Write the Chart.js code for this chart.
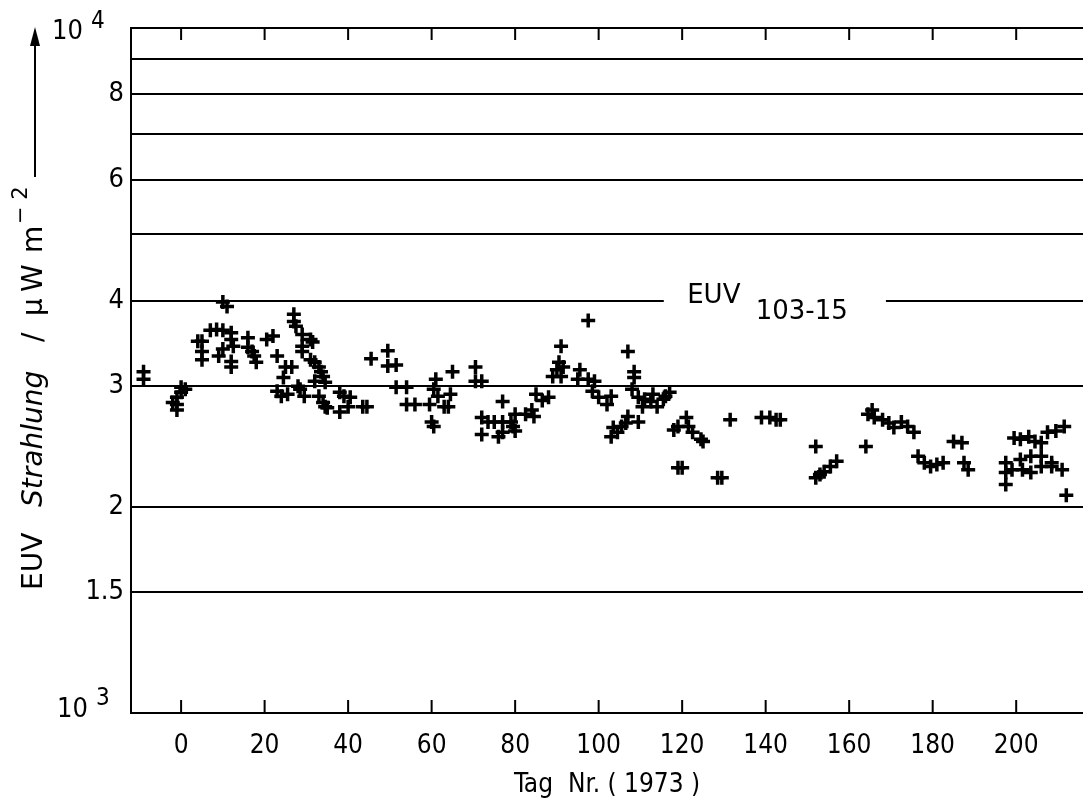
<!DOCTYPE html>
<html>
<head>
<meta charset="utf-8">
<script src="https://cdn.jsdelivr.net/npm/chart.js@4.4.1/dist/chart.umd.min.js"></script>
<style>
  html, body { margin: 0; padding: 0; background: #fff; }
  canvas { display: block; }
</style>
</head>
<body>
<canvas id="euvChart" width="1083" height="803"></canvas>
<script>
// Tag Nr. (1973) and EUV 103-15 values in µW m^-2
const days = [
  -9, -9,
  -2, -1, -1, -1, 0, 1, 0,
  4, 5, 5, 5, 7, 8.5, 10, 10, 11, 12, 12, 12.5, 9, 10, 12, 12,
  16, 16, 17, 17.5, 18, 20.5, 22, 23, 25, 26.5, 24.5, 23, 24, 25.5,
  27, 27, 27.5, 29, 31, 31.5, 29, 29, 28, 28.5, 29.5, 31, 32, 33, 33.5, 34, 32, 34.5, 33, 34, 34.5, 35,
  38, 39, 40.5, 40, 38, 43.5, 44.5, 45.5, 49.5, 49.5, 51.5, 51.5, 54, 54, 56,
  61, 60.5, 61.5, 59.5, 64.5, 64, 63, 60, 60.5, 65,
  70.5, 70.5, 72, 77, 72, 73.5, 75, 77, 79, 72, 76, 77, 79.5, 80, 80,
  82.5, 84, 84.5, 85, 86.5, 88, 89, 90, 90.5, 91, 91, 91.5,
  97.5, 95.5, 95, 97.5, 99, 98.5, 100, 103, 102,
  103, 103.5, 104.5, 105.5, 106.5, 107, 109.5, 107, 108.5, 108.5, 109.5, 110.5, 111, 112.5, 114, 115.5, 117, 108, 113, 116,
  118, 119, 121, 121.5, 122.5, 124.5, 119, 120, 125, 128.5, 129.5, 131.5,
  139, 141, 142.5, 143.5,
  152, 152, 153, 154, 155.5, 157,
  164, 164.5, 165.5, 166, 168, 169.5, 170.7, 172.5, 174, 175.5,
  176.5, 178, 179.5, 181, 182.5, 185, 187, 187.5, 188.5,
  197.5, 197.5, 197.5, 199.5, 201, 203, 204.5, 206, 207.5, 209.5, 211.5,
  199, 201.5, 203.5, 206, 208.5, 211, 201, 203.5, 206, 208.5, 212
];
const euv = [
  3150, 3070,
  2840, 2770, 2890, 2820, 2990, 2970, 2940,
  3490, 3490, 3370, 3280, 3620, 3630, 3620, 3980, 3920, 3590, 3510, 3430, 3320, 3400, 3260, 3200,
  3530, 3420, 3370, 3320, 3250, 3510, 3550, 3320, 3200, 3200, 3090, 2950, 2900, 2920,
  3820, 3730, 3670, 3570, 3510, 3480, 3430, 3370, 3000, 2970, 2900, 3280, 3250, 3200, 3150, 3100, 3050, 3040, 2900, 2840, 2800, 2790,
  2940, 2900, 2890, 2800, 2750, 2800, 2800, 3290, 3380, 3210, 3220, 2990, 2990, 2820, 2820,
  3070, 2970, 2900, 2820, 2920, 2800, 2800, 2660, 2620, 3150,
  3200, 3050, 3050, 2850, 2700, 2660, 2660, 2660, 2660, 2550, 2530, 2570, 2620, 2730, 2580,
  2730, 2770, 2710, 2920, 2860, 2890, 3100, 3170, 3250, 3430, 3100, 3200,
  3740, 3170, 3070, 3070, 3050, 2950, 2890, 2900, 2820,
  2530, 2610, 2570, 2620, 2650, 2710, 2660, 3370, 3150, 3090, 2890, 2800, 2870, 2850, 2800, 2870, 2940, 2970, 2920, 2900,
  2590, 2620, 2700, 2620, 2570, 2510, 2280, 2280, 2490, 2205, 2205, 2680,
  2700, 2700, 2680, 2680,
  2450, 2205, 2230, 2250, 2290, 2330,
  2450, 2730, 2770, 2700, 2680, 2650, 2610, 2660, 2620, 2570,
  2370, 2320, 2290, 2305, 2320, 2490, 2480, 2320, 2265,
  2320, 2245, 2155, 2520, 2510, 2530, 2490, 2480, 2570, 2580, 2620,
  2265, 2265, 2245, 2290, 2290, 2265, 2345, 2370, 2370, 2320, 2080
];

const xTicks = [0, 20, 40, 60, 80, 100, 120, 140, 160, 180, 200];
const yTicks = [1000, 1500, 2000, 3000, 4000, 5000, 6000, 7000, 8000, 9000, 10000];
const yLabels = { 1500: '1.5', 2000: '2', 3000: '3', 4000: '4', 6000: '6', 8000: '8' };

const FONT = '"DejaVu Sans Condensed", "DejaVu Sans", sans-serif';
const FONT_WIDE = '"DejaVu Sans", sans-serif';
Chart.defaults.font.family = FONT;
Chart.defaults.color = '#000';

const points = days.map((d, i) => ({ x: d, y: euv[i] }));

// tick marks, exponents, axis title with arrow, curve label
const decorations = {
  id: 'decorations',
  beforeDatasetsDraw(chart) {
    const { ctx, scales: { x, y } } = chart;
    const yy = y.getPixelForValue(4000);
    ctx.save();
    ctx.fillStyle = '#fff';
    const x0 = x.getPixelForValue(115.6);
    ctx.fillRect(x0, yy - 4, x.getPixelForValue(168.8) - x0, 8);
    ctx.fillStyle = '#000';
    ctx.textBaseline = 'middle';
    ctx.textAlign = 'left';
    ctx.font = '26px ' + FONT_WIDE;
    ctx.fillText('EUV', x.getPixelForValue(121.2), yy - 4);
    ctx.fillText('103-15', x.getPixelForValue(137.6), yy + 12);
    ctx.restore();
  },
  afterDraw(chart) {
    const { ctx, chartArea: { top, bottom }, scales: { x } } = chart;
    ctx.save();
    ctx.strokeStyle = '#000';
    ctx.lineWidth = 2;
    xTicks.forEach(v => {
      const px = x.getPixelForValue(v);
      ctx.beginPath();
      ctx.moveTo(px, bottom);
      ctx.lineTo(px, bottom - 13);
      ctx.moveTo(px, top);
      ctx.lineTo(px, top + 12);
      ctx.stroke();
    });

    // 10^4 and 10^3
    ctx.fillStyle = '#000';
    ctx.textBaseline = 'middle';
    ctx.textAlign = 'right';
    ctx.font = '27px ' + FONT;
    ctx.fillText('10', 83, top + 4);
    ctx.fillText('10', 88, bottom - 3);
    ctx.textAlign = 'left';
    ctx.font = '24px ' + FONT;
    ctx.fillText('4', 91, top - 6);
    ctx.fillText('3', 96, bottom - 14);

    // y axis title, rotated
    ctx.translate(35, 590);
    ctx.rotate(-Math.PI / 2);
    ctx.textAlign = 'left';
    ctx.font = '28px ' + FONT_WIDE;
    ctx.fillText('EUV', 0, 0);
    ctx.font = 'italic 28px ' + FONT_WIDE;
    ctx.fillText('Strahlung', 83, 0);
    ctx.font = '28px ' + FONT_WIDE;
    ctx.fillText('/', 248, 0);
    ctx.fillText('\u00b5', 274, 0);
    ctx.fillText('W', 298, 0);
    ctx.fillText('m', 337, 0);
    ctx.font = '21px ' + FONT_WIDE;
    ctx.fillText('\u2212 2', 366, -13);
    // arrow
    ctx.beginPath();
    ctx.moveTo(413, 0);
    ctx.lineTo(548, 0);
    ctx.stroke();
    ctx.beginPath();
    ctx.moveTo(563, 0);
    ctx.lineTo(544, -5);
    ctx.lineTo(544, 5);
    ctx.closePath();
    ctx.fill();
    ctx.restore();
  }
};

new Chart(document.getElementById('euvChart').getContext('2d'), {
  type: 'scatter',
  data: {
    datasets: [{
      label: 'EUV 103-15',
      data: points,
      pointStyle: 'cross',
      pointRadius: 7,
      pointBorderWidth: 3.5,
      borderColor: '#000',
      backgroundColor: '#000'
    }]
  },
  options: {
    responsive: false,
    animation: false,
    layout: { autoPadding: false, padding: { top: 28, right: 0, left: 0, bottom: 0 } },
    plugins: {
      legend: { display: false },
      tooltip: { enabled: false }
    },
    scales: {
      x: {
        type: 'linear',
        min: -12,
        max: 216,
        afterBuildTicks: scale => { scale.ticks = xTicks.map(v => ({ value: v })); },
        afterFit: scale => {
          scale.height = 90;
          scale.paddingLeft = 0;
          scale.paddingRight = 0;
        },
        grid: { display: false, drawTicks: false },
        border: { display: true, color: '#000', width: 2 },
        ticks: { font: { size: 26 }, padding: 18, maxRotation: 0, autoSkip: false },
        title: {
          display: true,
          text: 'Tag  Nr. ( 1973 )',
          font: { size: 26 },
          padding: { top: 0, bottom: 2 }
        }
      },
      y: {
        type: 'logarithmic',
        min: 1000,
        max: 10000,
        afterBuildTicks: scale => { scale.ticks = yTicks.map(v => ({ value: v })); },
        afterFit: scale => { scale.width = 131; },
        grid: { color: '#000', lineWidth: 2, drawTicks: false },
        border: { display: true, color: '#000', width: 2 },
        ticks: {
          font: { size: 27 },
          padding: 7,
          autoSkip: false,
          callback: v => yLabels[v] || ''
        }
      }
    }
  },
  plugins: [decorations]
});
</script>
</body>
</html>
